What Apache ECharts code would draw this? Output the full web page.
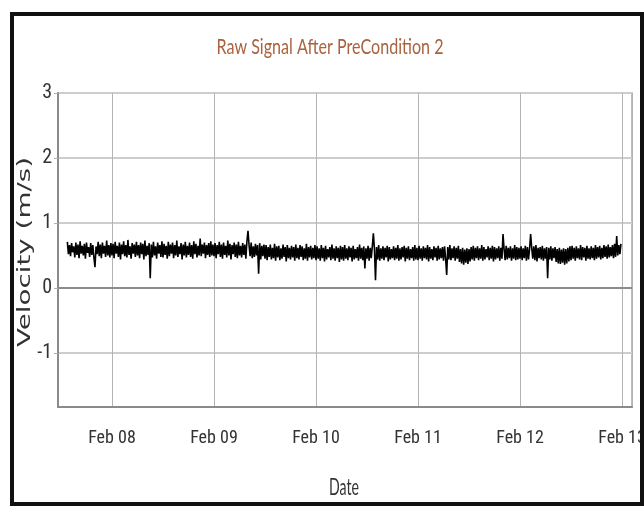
<!DOCTYPE html>
<html>
<head>
<meta charset="utf-8">
<script src="https://cdn.jsdelivr.net/npm/echarts@6/dist/echarts.min.js"></script>
<style>
  html, body { margin: 0; padding: 0; background: #fff; }
  #chart { width: 644px; height: 508px; }
</style>
</head>
<body>
<div id="chart"></div>
<script>
// Velocity record: one reading every 15 minutes, starting 7 Feb 13:30
const sampleStart = Date.UTC(2017, 1, 7, 13, 30);
const sampleStepMinutes = 15;

// 7 Feb 13:30 - 23:45
const velFeb07 = [
  0.71, 0.52, 0.66, 0.49, 0.69, 0.55, 0.64, 0.47, 0.70, 0.51, 0.67, 0.46, 0.72, 0.53, 0.65, 0.50, 0.68, 0.45, 0.70, 0.54, 0.63, 0.48, 0.69, 0.51,
  0.66, 0.47, 0.32, 0.64, 0.52, 0.71, 0.49, 0.67, 0.46, 0.70, 0.53, 0.65, 0.48, 0.73, 0.50, 0.66, 0.47, 0.69
];
const velFeb08 = [
  0.50, 0.68, 0.46, 0.71, 0.53, 0.65, 0.48, 0.70, 0.44, 0.67, 0.52, 0.72, 0.49, 0.66, 0.47, 0.74, 0.51, 0.64, 0.45, 0.69, 0.53, 0.67, 0.48, 0.71,
  0.50, 0.66, 0.46, 0.70, 0.52, 0.68, 0.44, 0.73, 0.49, 0.65, 0.51, 0.69, 0.15, 0.67, 0.47, 0.71, 0.50, 0.64, 0.45, 0.70, 0.53, 0.66, 0.48, 0.72,
  0.47, 0.68, 0.51, 0.65, 0.45, 0.71, 0.49, 0.67, 0.53, 0.70, 0.46, 0.66, 0.50, 0.73, 0.48, 0.64, 0.52, 0.69, 0.44, 0.67, 0.50, 0.71, 0.47, 0.65,
  0.51, 0.70, 0.48, 0.66, 0.45, 0.72, 0.52, 0.68, 0.47, 0.65, 0.50, 0.76, 0.49, 0.67, 0.53, 0.70, 0.46, 0.66, 0.51, 0.69, 0.48, 0.72, 0.50, 0.67
];
const velFeb09 = [
  0.49, 0.69, 0.46, 0.66, 0.52, 0.71, 0.48, 0.67, 0.45, 0.70, 0.51, 0.65, 0.47, 0.73, 0.50, 0.68, 0.44, 0.66, 0.52, 0.70, 0.48, 0.67, 0.46, 0.71,
  0.50, 0.65, 0.47, 0.69, 0.51, 0.67, 0.45, 0.72, 0.88, 0.66, 0.49, 0.70, 0.46, 0.64, 0.48, 0.68, 0.50, 0.66, 0.22, 0.69, 0.44, 0.65, 0.49, 0.67,
  0.45, 0.66, 0.43, 0.63, 0.48, 0.67, 0.44, 0.62, 0.46, 0.68, 0.42, 0.64, 0.47, 0.65, 0.43, 0.61, 0.45, 0.67, 0.48, 0.63, 0.41, 0.66, 0.46, 0.62,
  0.44, 0.65, 0.47, 0.63, 0.42, 0.67, 0.46, 0.62, 0.44, 0.66, 0.48, 0.64, 0.43, 0.61, 0.45, 0.68, 0.42, 0.63, 0.47, 0.65, 0.44, 0.62, 0.46, 0.66
];
const velFeb10 = [
  0.43, 0.64, 0.45, 0.61, 0.42, 0.66, 0.46, 0.62, 0.41, 0.65, 0.44, 0.60, 0.47, 0.63, 0.43, 0.67, 0.45, 0.61, 0.42, 0.64, 0.46, 0.62, 0.40, 0.65,
  0.44, 0.63, 0.42, 0.66, 0.45, 0.61, 0.43, 0.64, 0.47, 0.62, 0.41, 0.65, 0.44, 0.60, 0.46, 0.63, 0.42, 0.67, 0.45, 0.62, 0.43, 0.64, 0.30, 0.61,
  0.45, 0.65, 0.42, 0.62, 0.46, 0.64, 0.84, 0.60, 0.12, 0.63, 0.44, 0.66, 0.42, 0.61, 0.45, 0.64, 0.43, 0.62, 0.47, 0.65, 0.41, 0.63, 0.44, 0.60,
  0.46, 0.64, 0.43, 0.62, 0.45, 0.66, 0.42, 0.61, 0.44, 0.63, 0.47, 0.65, 0.41, 0.62, 0.45, 0.64, 0.43, 0.60, 0.46, 0.63, 0.42, 0.66, 0.44, 0.62
];
const velFeb11 = [
  0.43, 0.65, 0.45, 0.61, 0.42, 0.64, 0.46, 0.62, 0.44, 0.66, 0.41, 0.63, 0.45, 0.60, 0.43, 0.64, 0.47, 0.62, 0.42, 0.65, 0.44, 0.61, 0.46, 0.63,
  0.42, 0.64, 0.45, 0.20, 0.63, 0.44, 0.66, 0.43, 0.61, 0.46, 0.64, 0.42, 0.62, 0.45, 0.65, 0.40, 0.60, 0.38, 0.62, 0.36, 0.59, 0.39, 0.61, 0.37,
  0.60, 0.41, 0.63, 0.44, 0.65, 0.42, 0.62, 0.46, 0.64, 0.43, 0.61, 0.45, 0.66, 0.42, 0.63, 0.44, 0.60, 0.47, 0.64, 0.43, 0.62, 0.45, 0.65, 0.41,
  0.63, 0.44, 0.61, 0.46, 0.64, 0.42, 0.62, 0.45, 0.83, 0.60, 0.43, 0.65, 0.44, 0.62, 0.46, 0.64, 0.42, 0.61, 0.45, 0.66, 0.43, 0.63, 0.44, 0.62
];
const velFeb12 = [
  0.45, 0.64, 0.43, 0.61, 0.46, 0.65, 0.42, 0.63, 0.44, 0.60, 0.83, 0.62, 0.45, 0.64, 0.43, 0.66, 0.41, 0.62, 0.46, 0.63, 0.44, 0.65, 0.42, 0.61,
  0.45, 0.63, 0.15, 0.62, 0.44, 0.64, 0.42, 0.61, 0.46, 0.63, 0.40, 0.60, 0.38, 0.62, 0.37, 0.59, 0.39, 0.61, 0.36, 0.60, 0.38, 0.62, 0.41, 0.64,
  0.43, 0.65, 0.45, 0.62, 0.42, 0.64, 0.46, 0.61, 0.44, 0.66, 0.43, 0.63, 0.47, 0.62, 0.42, 0.65, 0.45, 0.61, 0.44, 0.64, 0.46, 0.62, 0.43, 0.66,
  0.45, 0.63, 0.47, 0.65, 0.44, 0.62, 0.46, 0.66, 0.48, 0.64, 0.45, 0.67, 0.47, 0.63, 0.49, 0.66, 0.46, 0.68, 0.48, 0.80, 0.50, 0.66, 0.52, 0.68
];

const yTickValues = [-1, 0, 1, 2, 3];
const yRange = [-1.83, 3];
const xRange = [Date.UTC(2017, 1, 7, 11, 18), Date.UTC(2017, 1, 13, 2, 21)];
const monthNames = ['Jan', 'Feb', 'Mar', 'Apr', 'May', 'Jun', 'Jul', 'Aug', 'Sep', 'Oct', 'Nov', 'Dec'];

const titleText = 'Raw Signal After PreCondition 2';
const xAxisTitle = 'Date';
const yAxisTitle = 'Velocity (m/s)';

const velocity = [].concat(velFeb07, velFeb08, velFeb09, velFeb10, velFeb11, velFeb12);
const seriesData = velocity.map((v, i) => [sampleStart + i * sampleStepMinutes * 60000, v]);

// horizontal stretch factor so a string fills a given width
function stretchTo(text, font, width) {
  const ctx = document.createElement('canvas').getContext('2d');
  ctx.font = font;
  return width / ctx.measureText(text).width;
}

const titleFont = '22px Lato';
const dateFont = '23px Lato';
const yNameFont = '18px "DejaVu Sans"';
const tickFont = '"Roboto Condensed", "Noto Sans Condensed", "Open Sans Condensed", Lato, sans-serif';

const chart = echarts.init(document.getElementById('chart'), null, { renderer: 'canvas' });

chart.setOption({
  animation: false,
  useUTC: true,
  backgroundColor: '#ffffff',
  grid: {
    left: 58, right: 12, top: 93, bottom: 101,
    outerBoundsMode: 'none',
    containLabel: false,
    show: true, borderColor: '#a8a8a8', borderWidth: 1.5, backgroundColor: 'transparent'
  },
  xAxis: {
    type: 'time',
    min: xRange[0],
    max: xRange[1],
    minInterval: 86400000,
    maxInterval: 86400000,
    axisLine: { show: true, onZero: false, lineStyle: { color: '#8a8a8a', width: 2 } },
    axisTick: { show: false },
    splitLine: { show: true, lineStyle: { color: '#b4b4b4', width: 1 } },
    axisLabel: {
      margin: 22,
      fontFamily: tickFont,
      fontSize: 18,
      color: '#333',
      hideOverlap: false,
      formatter: v => {
        const d = new Date(v);
        return monthNames[d.getUTCMonth()] + ' ' + String(d.getUTCDate()).padStart(2, '0');
      }
    }
  },
  yAxis: {
    type: 'value',
    min: yRange[0],
    max: yRange[1],
    axisLine: { show: true, lineStyle: { color: '#8a8a8a', width: 2 } },
    axisTick: { show: true, length: 4, customValues: yTickValues, lineStyle: { color: '#b0b0b0' } },
    splitLine: { show: true, lineStyle: { color: '#cdcdcd', width: 2 } },
    axisLabel: {
      customValues: yTickValues,
      margin: 6,
      fontFamily: tickFont,
      fontSize: 20,
      color: '#333'
    }
  },
  series: [{
    type: 'line',
    data: seriesData,
    showSymbol: false,
    sampling: false,
    lineStyle: { color: '#000', width: 1.6 },
    itemStyle: { color: '#000' },
    silent: true,
    z: 3,
    markLine: {
      silent: true,
      symbol: ['none', 'none'],
      label: { show: false },
      lineStyle: { color: '#8c8c8c', width: 2, type: 'solid' },
      data: [{ yAxis: 0 }],
      z: 2
    }
  }],
  graphic: [
    {
      type: 'text', x: 330, y: 47,
      scaleX: stretchTo(titleText, titleFont, 227),
      style: { text: titleText, font: titleFont, fill: '#a9623f', align: 'center', verticalAlign: 'middle' }
    },
    {
      type: 'text', x: 344, y: 488,
      scaleX: stretchTo(xAxisTitle, dateFont, 30),
      style: { text: xAxisTitle, font: dateFont, fill: '#333', align: 'center', verticalAlign: 'middle' }
    },
    {
      type: 'text', x: 25, y: 252, rotation: Math.PI / 2,
      scaleX: stretchTo(yAxisTitle, yNameFont, 190),
      style: { text: yAxisTitle, font: yNameFont, fill: '#333', align: 'center', verticalAlign: 'middle' }
    },
    {
      type: 'rect', silent: true, z: 100,
      shape: { x: 12, y: 14, width: 630, height: 490 },
      style: { fill: 'none', stroke: '#111', lineWidth: 4 }
    }
  ]
});
</script>
</body>
</html>
